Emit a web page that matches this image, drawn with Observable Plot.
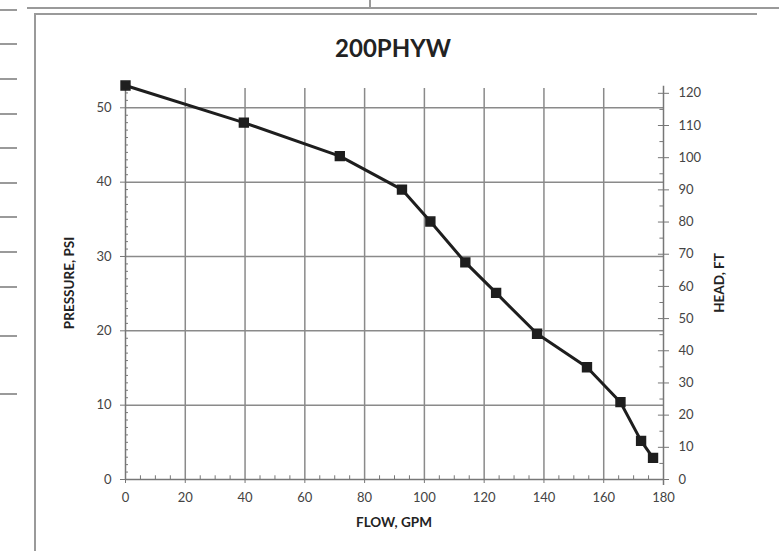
<!DOCTYPE html>
<html>
<head>
<meta charset="utf-8">
<script src="https://cdn.jsdelivr.net/npm/d3@7"></script>
<script src="https://cdn.jsdelivr.net/npm/@observablehq/plot@0.6"></script>
<style>
  html, body { margin: 0; padding: 0; background: #fff; }
  #wrap { position: relative; width: 779px; height: 551px; overflow: hidden; font-family: Lato, "Open Sans", sans-serif; }
  #chart { position: absolute; left: 0; top: 0; }
  .deco { position: absolute; background: #9a9a9a; }
  .t { position: absolute; font-weight: bold; color: #222; white-space: nowrap; }
</style>
</head>
<body>
<div id="wrap">
  <div id="chart"></div>
  <div class="t" id="title" style="left:0;width:786px;text-align:center;top:33px;font-size:24px;">200PHYW</div>
  <div class="t" id="xlab" style="left:294px;width:200px;text-align:center;top:514px;font-size:13.5px;">FLOW, GPM</div>
  <div class="t" id="ylab" style="left:-31px;width:200px;text-align:center;top:275px;font-size:13.5px;transform:rotate(-90deg);transform-origin:100px 8px;">PRESSURE, PSI</div>
  <div class="t" id="y2lab" style="left:619px;width:200px;text-align:center;top:275px;font-size:13.5px;transform:rotate(-90deg);transform-origin:100px 8px;">HEAD, FT</div>
</div>
<script>
// ---- data ----
const flowGpm = [0, 39.6, 71.7, 92.5, 102, 113.7, 124, 137.7, 154.4, 165.6, 172.5, 176.5];
const pressurePsi = [53, 48, 43.5, 39, 34.7, 29.2, 25.1, 19.6, 15.1, 10.4, 5.2, 2.9];
const xTicks = [0, 20, 40, 60, 80, 100, 120, 140, 160, 180];
const psiTicks = [0, 10, 20, 30, 40, 50];
const headTicks = [0, 10, 20, 30, 40, 50, 60, 70, 80, 90, 100, 110, 120];
const FT_PER_PSI = 2.31;

const points = flowGpm.map((f, i) => ({flow: f, psi: pressurePsi[i]}));
const minorX = d3.range(0, 181, 5).filter(d => d % 20 !== 0);
const minorPsi = d3.range(0, 53, 1).filter(d => d % 10 !== 0);
const headMajorPsi = headTicks.map(h => h / FT_PER_PSI);
const headMinorPsi = d3.range(5, 121, 10).map(h => h / FT_PER_PSI);

const grid = "#8a8a8a";
const axisC = "#777";

const chart = Plot.plot({
  width: 779,
  height: 551,
  marginLeft: 125,
  marginRight: 116,
  marginTop: 85,
  marginBottom: 72,
  style: {fontFamily: "Lato, 'Open Sans', sans-serif", fontSize: "13px", color: "#444", background: "transparent"},
  x: {domain: [0, 180]},
  y: {domain: [0, 53]},
  marks: [
    Plot.gridX(xTicks.filter(d => d > 0 && d < 180), {stroke: grid, strokeOpacity: 1, strokeWidth: 1.5, y1: 0, y2: 52.6}),
    Plot.gridY(psiTicks.filter(d => d > 0), {stroke: grid, strokeOpacity: 1, strokeWidth: 1.5}),
    // axis lines
    Plot.ruleX([0], {y1: 0, y2: 53, stroke: axisC, strokeWidth: 1.5}),
    Plot.ruleY([0], {x1: 0, x2: 180, stroke: axisC, strokeWidth: 1.5}),
    Plot.ruleX([180], {y1: -0.8, y2: 52.9, stroke: axisC, strokeWidth: 1.5}),
    // minor ticks
    Plot.ruleY(minorPsi, {x1: 0, x2: 1, stroke: axisC}),
    Plot.ruleX(minorX, {y1: 0, y2: 0.5, stroke: axisC}),
    Plot.ruleY(headMinorPsi, {x1: 178.8, x2: 180, stroke: axisC}),
    Plot.ruleY(headMajorPsi, {x1: 178.3, x2: 180, stroke: axisC}),
    // axes
    Plot.axisX(xTicks, {tickSize: 4, tickPadding: 9, stroke: axisC, fill: "#444", label: null}),
    Plot.axisY(psiTicks, {tickSize: 5, tickPadding: 9, stroke: axisC, fill: "#444", label: null}),
    Plot.axisY(headMajorPsi, {anchor: "right", tickSize: 5, tickPadding: 10, stroke: axisC, fill: "#444", label: null,
      tickFormat: d => String(Math.round(d * FT_PER_PSI))}),
    // data
    Plot.line(points, {x: "flow", y: "psi", stroke: "#1e1e1e", strokeWidth: 3}),
    Plot.dot(points, {x: "flow", y: "psi", symbol: "square", r: 5, fill: "#1e1e1e", stroke: "#1e1e1e"})
  ]
});
document.getElementById("chart").appendChild(chart);

// decorative scan frame lines
const wrap = document.getElementById("wrap");
function deco(l, t, w, h) {
  const d = document.createElement("div");
  d.className = "deco";
  Object.assign(d.style, {left: l + "px", top: t + "px", width: w + "px", height: h + "px"});
  wrap.appendChild(d);
}
deco(27, 7, 752, 2);
deco(369, 0, 2, 8);
deco(35, 13, 722, 2);
deco(34, 13, 2, 538);
[9, 43, 78, 113, 147, 182, 216, 251, 286, 335, 393].forEach(y => deco(0, y, 17, 2));
</script>
</body>
</html>
